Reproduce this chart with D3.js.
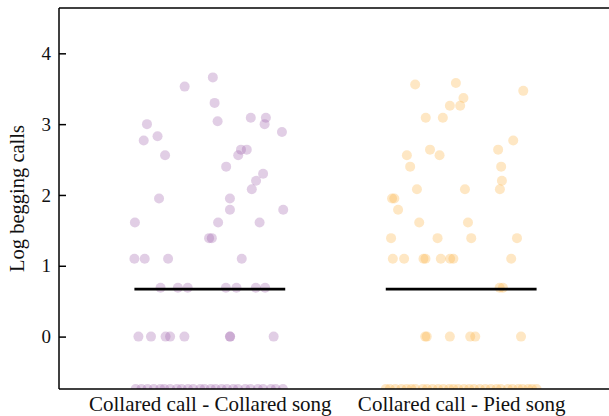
<!DOCTYPE html>
<html>
<head>
<meta charset="utf-8">
<script src="https://d3js.org/d3.v7.min.js"></script>
<style>
  body { margin: 0; background: #fff; }
  text { font-family: "Liberation Serif", "DejaVu Serif", serif; fill: #111; }
</style>
</head>
<body>
<svg width="609" height="416"></svg>
<script>
// groups on the x axis
var groups = ["Collared call - Collared song", "Collared call - Pied song"];

// log begging calls, -Infinity = no calls (drawn on the panel edge)
var collaredVals = [
  3.53, 3.66, 3.30, 3.04, 3.00, 2.83, 2.77, 2.56, 3.09, 3.09, 3.00, 2.89,
  2.64, 2.64, 2.56, 2.40, 2.30, 2.20, 2.08, 1.95, 1.95, 1.79, 1.79,
  1.61, 1.61, 1.61, 1.39, 1.39, 1.10, 1.10, 1.10, 1.10,
  0.69, 0.69, 0.69, 0.69, 0.69, 0.69, 0.69,
  0, 0, 0, 0, 0, 0, 0, 0,
  -Infinity, -Infinity, -Infinity, -Infinity, -Infinity, -Infinity, -Infinity,
  -Infinity, -Infinity, -Infinity, -Infinity, -Infinity, -Infinity, -Infinity,
  -Infinity, -Infinity, -Infinity, -Infinity, -Infinity, -Infinity, -Infinity,
  -Infinity, -Infinity, -Infinity, -Infinity, -Infinity
];
// horizontal jitter, in category steps
var collaredJitter = [
  -0.100, 0.012, 0.019, 0.031, -0.250, -0.208, -0.263, -0.178, 0.163, 0.223, 0.218, 0.287,
  0.124, 0.147, 0.113, 0.065, 0.212, 0.184, 0.167, -0.202, 0.080, 0.080, 0.292,
  -0.298, 0.033, 0.198, -0.003, 0.008, -0.300, -0.259, -0.166, 0.127,
  -0.196, -0.127, -0.088, 0.064, 0.106, 0.183, 0.220,
  -0.284, -0.234, -0.176, -0.158, -0.101, 0.080, 0.081, 0.254,
  -0.295, -0.272, -0.248, -0.223, -0.197, -0.181, -0.158, -0.131, -0.112, -0.087, -0.066,
  -0.038, -0.021, 0.004, 0.023, 0.047, 0.068, 0.093, 0.112, 0.141, 0.162, 0.191,
  0.212, 0.243, 0.262, 0.291
];

var piedVals = [
  3.56, 3.58, 3.47, 3.37, 3.26, 3.26, 3.09, 3.09, 2.77, 2.64, 2.64, 2.56, 2.56,
  2.40, 2.40, 2.20, 2.08, 2.08, 2.08, 1.95, 1.95, 1.79, 1.61, 1.61,
  1.39, 1.39, 1.39, 1.39, 1.10, 1.10, 1.10, 1.10, 1.10, 1.10, 1.10, 1.10,
  0.69, 0.69,
  0, 0, 0, 0, 0, 0,
  -Infinity, -Infinity, -Infinity, -Infinity, -Infinity, -Infinity, -Infinity, -Infinity,
  -Infinity, -Infinity, -Infinity, -Infinity, -Infinity, -Infinity, -Infinity, -Infinity,
  -Infinity, -Infinity, -Infinity, -Infinity, -Infinity, -Infinity, -Infinity, -Infinity,
  -Infinity, -Infinity, -Infinity, -Infinity, -Infinity, -Infinity
];
var piedJitter = [
  -0.183, -0.021, 0.247, 0.009, -0.045, -0.004, -0.141, -0.073, 0.207, 0.147, -0.124, -0.216, -0.086,
  -0.203, 0.159, 0.162, -0.176, 0.015, 0.154, -0.275, -0.266, -0.251, -0.167, 0.027,
  -0.279, -0.094, 0.040, 0.222, -0.272, -0.227, -0.150, -0.142, -0.081, -0.044, -0.031, 0.199,
  0.153, 0.166,
  -0.143, -0.137, -0.045, 0.036, 0.056, 0.238,
  -0.300, -0.284, -0.262, -0.238, -0.217, -0.198, -0.182, -0.153, -0.136, -0.114,
  -0.092, -0.071, -0.048, -0.031, -0.012, 0.011, 0.032, 0.051, 0.074, 0.096,
  0.118, 0.141, 0.158, 0.186, 0.204, 0.227, 0.244, 0.266, 0.282, 0.300
];

// summary line per group
var medians = [0.67, 0.67];

var yTicks = [0, 1, 2, 3, 4];
var colors = ["#9a5ca8", "#fdae3b"];

var svg = d3.select("svg"),
    margin = { top: 8, left: 59, bottom: 389, right: 612 };

var x = d3.scalePoint()
    .domain(groups)
    .range([margin.left, margin.right])
    .padding(0.6);

var y = d3.scaleLinear()
    .domain([-0.74, 4.64])
    .range([margin.bottom, margin.top]);

var yPos = function (v) { return v === -Infinity ? y.range()[0] : y(v); };

svg.append("defs").append("clipPath").attr("id", "panel")
  .append("rect")
    .attr("x", margin.left).attr("y", margin.top)
    .attr("width", margin.right - margin.left)
    .attr("height", margin.bottom - margin.top);

var series = [
  { group: groups[0], vals: collaredVals, jit: collaredJitter, color: colors[0], med: medians[0] },
  { group: groups[1], vals: piedVals, jit: piedJitter, color: colors[1], med: medians[1] }
];

var panel = svg.append("g").attr("clip-path", "url(#panel)");

series.forEach(function (s) {
  var pts = s.vals.map(function (v, i) { return { v: v, j: s.jit[i] }; });
  panel.append("g").selectAll("circle")
    .data(pts)
    .enter().append("circle")
      .attr("cx", function (d) { return x(s.group) + d.j * x.step(); })
      .attr("cy", function (d) { return yPos(d.v); })
      .attr("r", 5)
      .attr("fill", s.color)
      .attr("fill-opacity", 0.3);
});

// median lines
series.forEach(function (s) {
  panel.append("line")
    .attr("x1", x(s.group) - 0.3 * x.step())
    .attr("x2", x(s.group) + 0.3 * x.step())
    .attr("y1", y(s.med)).attr("y2", y(s.med))
    .attr("stroke", "#000")
    .attr("stroke-width", 2.8);
});

// frame: top
svg.append("line")
  .attr("x1", margin.left).attr("x2", 609)
  .attr("y1", margin.top).attr("y2", margin.top)
  .attr("stroke", "#000").attr("stroke-width", 1.5);

var yAxis = svg.append("g")
  .attr("transform", "translate(" + margin.left + ",0)")
  .call(d3.axisRight(y).tickValues(yTicks).tickSize(7).tickFormat(d3.format("d")));
yAxis.select(".domain").remove();
yAxis.selectAll(".tick line").attr("stroke", "#000").attr("stroke-width", 1.5);
yAxis.selectAll(".tick text")
  .attr("x", -8)
  .attr("text-anchor", "end")
  .style("font-family", "'Liberation Serif', serif")
  .style("font-size", "19px")
  .attr("fill", "#111");

svg.append("line")
  .attr("x1", margin.left).attr("x2", margin.left)
  .attr("y1", margin.top).attr("y2", margin.bottom)
  .attr("stroke", "#000").attr("stroke-width", 1.5);

var xAxis = svg.append("g")
  .attr("transform", "translate(0," + margin.bottom + ")")
  .call(d3.axisBottom(x).tickSize(0).tickPadding(7));
xAxis.select(".domain").remove();
xAxis.selectAll(".tick text")
  .attr("dy", "0.71em")
  .style("font-family", "'Liberation Serif', serif")
  .style("font-size", "21px")
  .attr("fill", "#111");

svg.append("line")
  .attr("x1", margin.left).attr("x2", 609)
  .attr("y1", margin.bottom).attr("y2", margin.bottom)
  .attr("stroke", "#000").attr("stroke-width", 1.5);

svg.append("text")
  .attr("transform", "translate(24," + (margin.top + margin.bottom) / 2 + ") rotate(-90)")
  .attr("text-anchor", "middle")
  .style("font-size", "20.5px")
  .text("Log begging calls");
</script>
</body>
</html>
